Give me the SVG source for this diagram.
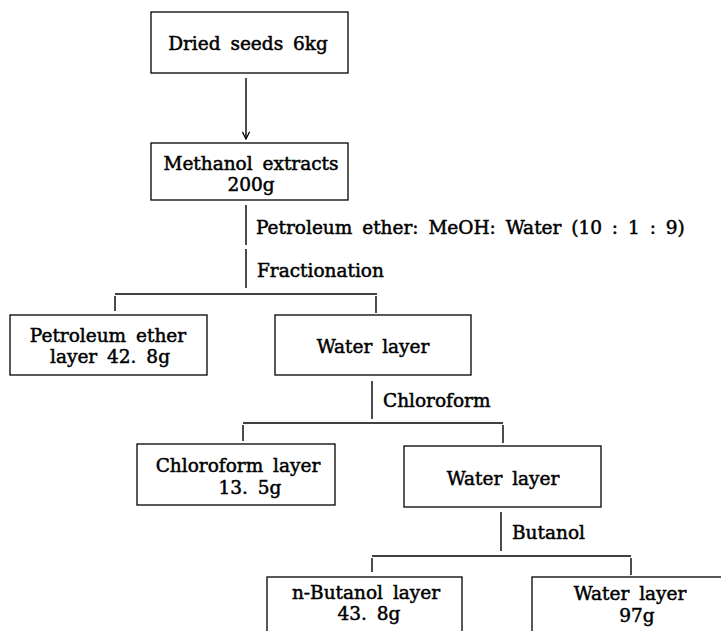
<svg xmlns="http://www.w3.org/2000/svg" width="721" height="631" viewBox="0 0 721 631">
<style>
  .box { fill: none; stroke: #000; stroke-width: 1.3; }
  .ln { fill: none; stroke: #000; stroke-width: 1.4; }
  text { font-family: "DejaVu Serif", "Liberation Serif", serif; font-size: 18.5px; fill: #000; stroke: #000; stroke-width: 0.5; word-spacing: 4px; }
  .c { text-anchor: middle; }
</style>
<defs>
  <marker id="arr" viewBox="0 0 10 10" refX="9" refY="5" markerWidth="9" markerHeight="9" markerUnits="userSpaceOnUse" orient="auto">
    <path d="M1,1 L9,5 L1,9" fill="none" stroke="#000" stroke-width="1.4"/>
  </marker>
</defs>
<rect width="721" height="631" fill="#fff"/>

<g id="connectors">
  <line class="ln" x1="246" y1="78" x2="246" y2="139" marker-end="url(#arr)"/>
  <line class="ln" x1="246" y1="205" x2="246" y2="245"/>
  <line class="ln" x1="246" y1="249" x2="246" y2="288"/>
  <line class="ln" x1="115" y1="294" x2="377" y2="294"/>
  <line class="ln" x1="115" y1="296" x2="115" y2="311"/>
  <line class="ln" x1="376" y1="296" x2="376" y2="313"/>
  <line class="ln" x1="372" y1="381" x2="372" y2="419"/>
  <line class="ln" x1="243" y1="423" x2="503" y2="423"/>
  <line class="ln" x1="243" y1="425" x2="243" y2="441"/>
  <line class="ln" x1="503" y1="425" x2="503" y2="443"/>
  <line class="ln" x1="501" y1="512" x2="501" y2="551"/>
  <line class="ln" x1="372" y1="556" x2="631" y2="556"/>
  <line class="ln" x1="372" y1="558" x2="372" y2="572"/>
  <line class="ln" x1="631" y1="558" x2="631" y2="575"/>
  <text x="256" y="234">Petroleum ether: MeOH: Water (10 : 1 : 9)</text>
  <text x="257" y="277">Fractionation</text>
  <text x="383" y="407">Chloroform</text>
  <text x="512" y="539">Butanol</text>
</g>

<g id="dried-seeds">
  <rect class="box" x="151" y="12" width="197" height="61"/>
  <text class="c" x="248" y="50">Dried seeds 6kg</text>
</g>
<g id="methanol-extracts">
  <rect class="box" x="151" y="143" width="197" height="57"/>
  <text class="c" x="251" y="170">Methanol extracts</text>
  <text class="c" x="251" y="191">200g</text>
</g>
<g id="petroleum-ether-layer">
  <rect class="box" x="10" y="315" width="197" height="60"/>
  <text class="c" x="108" y="342">Petroleum ether</text>
  <text class="c" x="110" y="363">layer 42. 8g</text>
</g>
<g id="water-layer-1">
  <rect class="box" x="275" y="315" width="196" height="60"/>
  <text class="c" x="373" y="353">Water layer</text>
</g>
<g id="chloroform-layer">
  <rect class="box" x="137" y="444" width="198" height="61"/>
  <text class="c" x="238" y="472">Chloroform layer</text>
  <text class="c" x="250" y="494">13. 5g</text>
</g>
<g id="water-layer-2">
  <rect class="box" x="404" y="446" width="197" height="61"/>
  <text class="c" x="503" y="485">Water layer</text>
</g>
<g id="n-butanol-layer">
  <rect class="box" x="267" y="577" width="195" height="80"/>
  <text class="c" x="366" y="599">n-Butanol layer</text>
  <text class="c" x="369" y="620">43. 8g</text>
</g>
<g id="water-layer-3">
  <rect class="box" x="532" y="577" width="220" height="80"/>
  <text class="c" x="630" y="600">Water layer</text>
  <text class="c" x="637" y="622">97g</text>
</g>
</svg>
